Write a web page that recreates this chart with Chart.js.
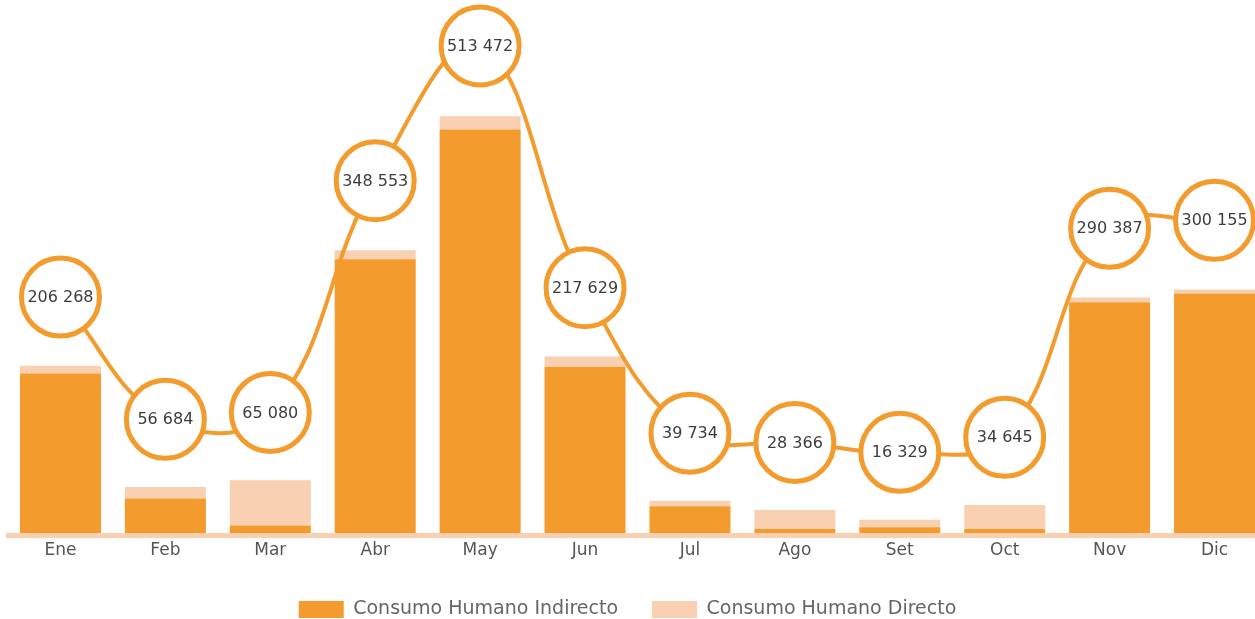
<!DOCTYPE html>
<html lang="es">
<head>
  <meta charset="UTF-8" />
  <title>Consumo Humano</title>
  <style>
    html, body { margin: 0; padding: 0; background: #fff; overflow: hidden; }
    #wrap { width: 1255px; height: 619px; overflow: hidden; }
  </style>
</head>
<body>
  <div id="wrap">
    <canvas id="grafico" width="1267" height="629"></canvas>
  </div>

  <script src="https://cdn.jsdelivr.net/npm/chart.js"></script>
  <script>
    // Datos
    const meses = ["Ene", "Feb", "Mar", "Abr", "May", "Jun", "Jul", "Ago", "Set", "Oct", "Nov", "Dic"];
    const indirecto = [196500, 42500, 9300, 337500, 497100, 204900, 33100, 4900, 7300, 5000, 284300, 295300];
    const directo = [9768, 14184, 55780, 11053, 16372, 12729, 6634, 23466, 9029, 29645, 6087, 4855];
    const totales = [206268, 56684, 65080, 348553, 513472, 217629, 39734, 28366, 16329, 34645, 290387, 300155];

    const naranja = "#f39b2c";
    const durazno = "#f9d1b2";
    const fuente = "'DejaVu Sans', sans-serif";

    const formato = v => v.toString().replace(/\B(?=(\d{3})+(?!\d))/g, " ");

    // etiquetas dentro de los circulos
    const etiquetas = {
      id: "etiquetas",
      afterLayout(chart) {
        // la leyenda del original esta un poco a la izquierda
        chart.legend.left -= 10;
        chart.legend.right -= 10;
      },
      afterDatasetsDraw(chart) {
        const ctx = chart.ctx;
        const meta = chart.getDatasetMeta(2);
        ctx.save();
        ctx.font = "16px " + fuente;
        ctx.fillStyle = "#3d3d3d";
        ctx.textAlign = "center";
        ctx.textBaseline = "middle";
        meta.data.forEach((p, i) => {
          ctx.fillText(formato(totales[i]), p.x, p.y + 1);
        });
        ctx.restore();
      }
    };

    const ctx = document.getElementById("grafico").getContext("2d");
    new Chart(ctx, {
      type: "bar",
      data: {
        labels: meses,
        datasets: [
          {
            label: "Consumo Humano Indirecto",
            data: indirecto,
            backgroundColor: naranja,
            order: 1,
            yAxisID: "y"
          },
          {
            label: "Consumo Humano Directo",
            data: directo,
            backgroundColor: durazno,
            order: 2,
            yAxisID: "y"
          },
          {
            type: "line",
            label: "Total",
            data: totales,
            yAxisID: "y2",
            order: 0,
            borderColor: naranja,
            borderWidth: 4,
            tension: 0.4,
            pointRadius: 39,
            pointBorderWidth: 5,
            pointBackgroundColor: "#fff",
            pointBorderColor: naranja,
            clip: false
          }
        ]
      },
      options: {
        responsive: false,
        animation: false,
        barPercentage: 0.772,
        categoryPercentage: 1,
        layout: { autoPadding: false, padding: { left: 8, right: 0, top: 0, bottom: 0 } },
        plugins: {
          tooltip: { enabled: false },
          legend: {
            position: "bottom",
            labels: {
              font: { family: fuente, size: 19 },
              color: "#666",
              boxWidth: 45,
              boxHeight: 17,
              padding: 34,
              filter: item => item.datasetIndex !== 2
            }
          }
        },
        scales: {
          x: {
            stacked: true,
            offset: true,
            grid: { display: false, drawTicks: false },
            border: { display: true, color: durazno, width: 5 },
            ticks: {
              color: "#555",
              font: { family: fuente, size: 17 },
              padding: 5
            }
          },
          y: {
            stacked: true,
            display: false,
            min: -3086,
            max: 656790
          },
          y2: {
            stacked: false,
            display: false,
            min: -85565,
            max: 569700
          }
        }
      },
      plugins: [etiquetas]
    });
  </script>
</body>
</html>
